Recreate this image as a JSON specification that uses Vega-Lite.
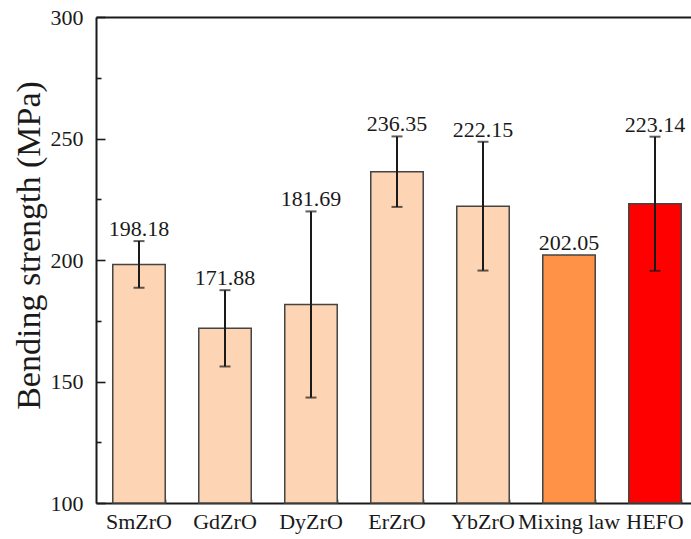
{
  "$schema": "https://vega.github.io/schema/vega-lite/v6.json",
  "width": 595,
  "height": 486,
  "autosize": {"type": "none"},
  "padding": {"left": 96, "top": 17, "right": 0, "bottom": 36},
  "background": "white",
  "config": {
    "view": {"stroke": null},
    "font": "Liberation Serif",
    "axis": {
      "labelFont": "Liberation Serif",
      "titleFont": "Liberation Serif",
      "labelColor": "#1a1a1a",
      "titleColor": "#1a1a1a",
      "domainColor": "#1a1a1a",
      "tickColor": "#1a1a1a",
      "domainWidth": 2,
      "tickWidth": 1.6,
      "grid": false,
      "titleFontWeight": "normal"
    }
  },
  "data": {
    "values": [
      {"name": "SmZrO", "value": 198.18, "low": 188.58, "high": 207.78},
      {"name": "GdZrO", "value": 171.88, "low": 156.18, "high": 187.58},
      {"name": "DyZrO", "value": 181.69, "low": 143.39, "high": 219.99},
      {"name": "ErZrO", "value": 236.35, "low": 221.85, "high": 250.85},
      {"name": "YbZrO", "value": 222.15, "low": 195.65, "high": 248.65},
      {"name": "Mixing law", "value": 202.05, "low": 202.05, "high": 202.05},
      {"name": "HEFO", "value": 223.14, "low": 195.54, "high": 250.74}
    ]
  },
  "layer": [
    {
      "mark": {"type": "bar", "stroke": "#444444", "strokeWidth": 1.5},
      "encoding": {
        "x": {
          "field": "name", "type": "nominal", "sort": null,
          "scale": {"range": [0, 602], "paddingInner": 0.39, "paddingOuter": 0.195},
          "axis": {
            "orient": "bottom", "title": null, "labelAngle": 0,
            "labelFontSize": 22, "tickSize": -9, "labelPadding": 17,
            "labelBaseline": "top"
          }
        },
        "y": {
          "field": "value", "type": "quantitative",
          "scale": {"domain": [100, 300], "nice": false, "zero": false},
          "axis": {
            "orient": "left", "values": [100, 150, 200, 250, 300],
            "tickSize": -9, "labelPadding": 22, "labelFontSize": 22,
            "title": "Bending strength (MPa)", "titleFontSize": 34,
            "titleX": -57, "titleY": 228, "titleBaseline": "alphabetic",
            "titleAlign": "center", "titleAngle": -90
          }
        },
        "y2": {"datum": 100},
        "color": {
          "field": "name", "type": "nominal",
          "scale": {
            "domain": ["SmZrO", "GdZrO", "DyZrO", "ErZrO", "YbZrO", "Mixing law", "HEFO"],
            "range": ["#FDD5B5", "#FDD5B5", "#FDD5B5", "#FDD5B5", "#FDD5B5", "#FF9247", "#FF0000"]
          },
          "legend": null
        }
      }
    },
    {
      "transform": [{"filter": "datum.high > datum.value"}],
      "mark": {"type": "rule", "color": "#1a1a1a", "strokeWidth": 2},
      "encoding": {
        "x": {
          "field": "name", "type": "nominal", "sort": null,
          "axis": {
            "orient": "bottom", "title": null, "labels": false, "domain": false,
            "tickBand": "extent", "tickSize": -4
          }
        },
        "y": {
          "field": "low", "type": "quantitative",
          "axis": {
            "orient": "left", "values": [125, 175, 225, 275], "labels": false,
            "domain": false, "title": null, "tickSize": -5
          }
        },
        "y2": {"field": "high"}
      }
    },
    {
      "transform": [{"filter": "datum.high > datum.value"}],
      "mark": {"type": "tick", "color": "#1a1a1a", "size": 11, "thickness": 2},
      "encoding": {
        "x": {"field": "name", "type": "nominal", "sort": null, "axis": null},
        "y": {"field": "low", "type": "quantitative", "axis": null}
      }
    },
    {
      "transform": [{"filter": "datum.high > datum.value"}],
      "mark": {"type": "tick", "color": "#1a1a1a", "size": 11, "thickness": 2},
      "encoding": {
        "x": {"field": "name", "type": "nominal", "sort": null, "axis": null},
        "y": {"field": "high", "type": "quantitative", "axis": null}
      }
    },
    {
      "mark": {"type": "text", "dy": -5, "fontSize": 22, "baseline": "alphabetic", "color": "#1a1a1a", "font": "Liberation Serif"},
      "encoding": {
        "x": {
          "field": "name", "type": "nominal", "sort": null,
          "axis": {"orient": "top", "title": null, "labels": false, "ticks": false, "domain": true}
        },
        "y": {"field": "high", "type": "quantitative", "axis": null},
        "text": {"field": "value", "type": "quantitative", "format": ".2f"}
      }
    }
  ],
  "resolve": {"axis": {"x": "independent", "y": "independent"}}
}
